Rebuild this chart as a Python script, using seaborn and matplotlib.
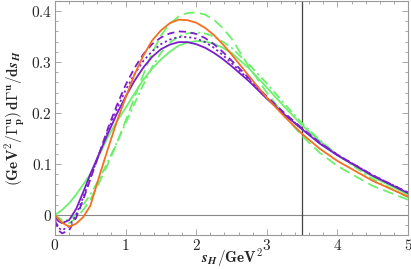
import numpy as np
import pandas as pd
import matplotlib
matplotlib.use("Agg")
import matplotlib.pyplot as plt
import seaborn as sns
from matplotlib.ticker import MultipleLocator, FuncFormatter

s_H = [0, 0.05, 0.1, 0.2, 0.3, 0.4, 0.5, 0.625, 0.75, 0.875, 1.0, 1.125, 1.25, 1.375,
       1.5, 1.625, 1.75, 1.875, 2.0, 2.125, 2.25, 2.375, 2.5, 2.75, 3.0, 3.25, 3.5,
       3.75, 4.0, 4.5, 5.0]

orange_solid = [0, -0.008, -0.015, -0.023, -0.017, -0.004, 0.018, 0.075, 0.13, 0.183,
                0.23, 0.275, 0.312, 0.342, 0.362, 0.376, 0.383, 0.382, 0.377, 0.367,
                0.353, 0.335, 0.315, 0.272, 0.23, 0.193, 0.159, 0.13, 0.106, 0.067,
                0.036]
green_solid = [0, 0.005, 0.01, 0.023, 0.04, 0.06, 0.08, 0.117, 0.153, 0.183, 0.21,
               0.238, 0.265, 0.287, 0.305, 0.32, 0.332, 0.338, 0.341, 0.34, 0.336,
               0.328, 0.318, 0.287, 0.25, 0.212, 0.176, 0.145, 0.118, 0.075, 0.04]
green_dashed = [0, -0.008, -0.014, -0.016, -0.006, 0.01, 0.03, 0.063, 0.1, 0.14, 0.185,
                0.23, 0.275, 0.318, 0.352, 0.375, 0.389, 0.396, 0.397, 0.393, 0.383,
                0.367, 0.346, 0.29, 0.24, 0.195, 0.155, 0.122, 0.096, 0.057, 0.03]
green_dashdot = [0, -0.005, -0.01, -0.01, 0.002, 0.02, 0.04, 0.07, 0.105, 0.142, 0.18,
                 0.218, 0.255, 0.29, 0.318, 0.338, 0.35, 0.356, 0.358, 0.356, 0.35,
                 0.34, 0.328, 0.295, 0.258, 0.218, 0.18, 0.147, 0.118, 0.07, 0.035]
purple_solid = [-0.003, -0.012, -0.016, -0.01, 0.012, 0.045, 0.08, 0.12, 0.16, 0.198,
                0.232, 0.263, 0.289, 0.31, 0.325, 0.334, 0.339, 0.339, 0.335, 0.328,
                0.318, 0.306, 0.292, 0.262, 0.228, 0.197, 0.168, 0.14, 0.117, 0.077,
                0.043]
purple_dashed = [-0.01, -0.03, -0.036, -0.03, -0.005, 0.03, 0.07, 0.12, 0.17, 0.215,
                 0.255, 0.288, 0.315, 0.335, 0.348, 0.356, 0.36, 0.359, 0.355, 0.347,
                 0.335, 0.32, 0.303, 0.268, 0.232, 0.2, 0.17, 0.142, 0.118, 0.078,
                 0.044]
purple_dotted = [-0.008, -0.025, -0.03, -0.022, 0.0, 0.035, 0.072, 0.12, 0.165, 0.207,
                 0.245, 0.276, 0.302, 0.321, 0.335, 0.344, 0.349, 0.349, 0.346, 0.339,
                 0.328, 0.314, 0.298, 0.265, 0.23, 0.198, 0.169, 0.141, 0.118, 0.078,
                 0.044]

xticks = [0, 1, 2, 3, 4, 5]
yticks = [0, 0.1, 0.2, 0.3, 0.4]

ORANGE = "#F5701E"
GREEN = "#6CF06C"
PURPLE = "#7A1ECB"

sns.set_theme(style="ticks")
plt.rcParams["mathtext.fontset"] = "cm"
plt.rcParams["font.family"] = ["DejaVu Serif"]

fig = plt.figure(figsize=(4.11, 2.69), dpi=100)
ax = fig.add_axes([55 / 411, 1 - 235 / 269, 353 / 411, 234 / 269])

ax.axhline(0, color="#888888", lw=0.8, zorder=1)
ax.axvline(3.5, color="#444444", lw=0.9, zorder=1)

series = [
    (green_solid, GREEN, "-"),
    (green_dashed, GREEN, (0, (6, 3))),
    (green_dashdot, GREEN, (0, (5, 2, 1.2, 2))),
    (purple_dotted, PURPLE, (0, (1.2, 1.6))),
    (purple_dashed, PURPLE, (0, (4, 2.5))),
    (purple_solid, PURPLE, "-"),
    (orange_solid, ORANGE, "-"),
]
for vals, col, ls in series:
    df = pd.DataFrame({"s": s_H, "v": vals})
    sns.lineplot(data=df, x="s", y="v", color=col, linestyle=ls, lw=1.3,
                 ax=ax, sort=False, estimator=None)

ax.set_xlim(0, 5)
ax.set_ylim(-0.0392, 0.4196)
ax.set_xticks(xticks)
ax.set_yticks(yticks)
ax.xaxis.set_minor_locator(MultipleLocator(0.2))
ax.yaxis.set_minor_locator(MultipleLocator(0.02))

def fmt(v, pos):
    s = "0" if abs(v) < 1e-9 else ("%g" % v)
    return r"$\mathbf{" + s + "}$"

ax.xaxis.set_major_formatter(FuncFormatter(fmt))
ax.yaxis.set_major_formatter(FuncFormatter(fmt))

for sp in ax.spines.values():
    sp.set_color("#999999")
    sp.set_linewidth(0.8)
ax.tick_params(which="both", direction="in", top=True, right=True,
               color="#999999", labelsize=11, width=0.6)
ax.tick_params(which="major", length=4, pad=2)
ax.tick_params(which="minor", length=2)

ax.set_xlabel(r"$\mathbfit{s}_{\mathbfit{H}}\mathbf{/GeV^2}$", fontsize=11, labelpad=-4.5)
ax.set_ylabel(r"$\mathbf{(GeV^2/\Gamma^{u}_{p})\,d\Gamma^{u}/d}\mathbfit{s}_{\mathbfit{H}}$",
              fontsize=11, labelpad=3)

fig.savefig("out.png", dpi=100)
